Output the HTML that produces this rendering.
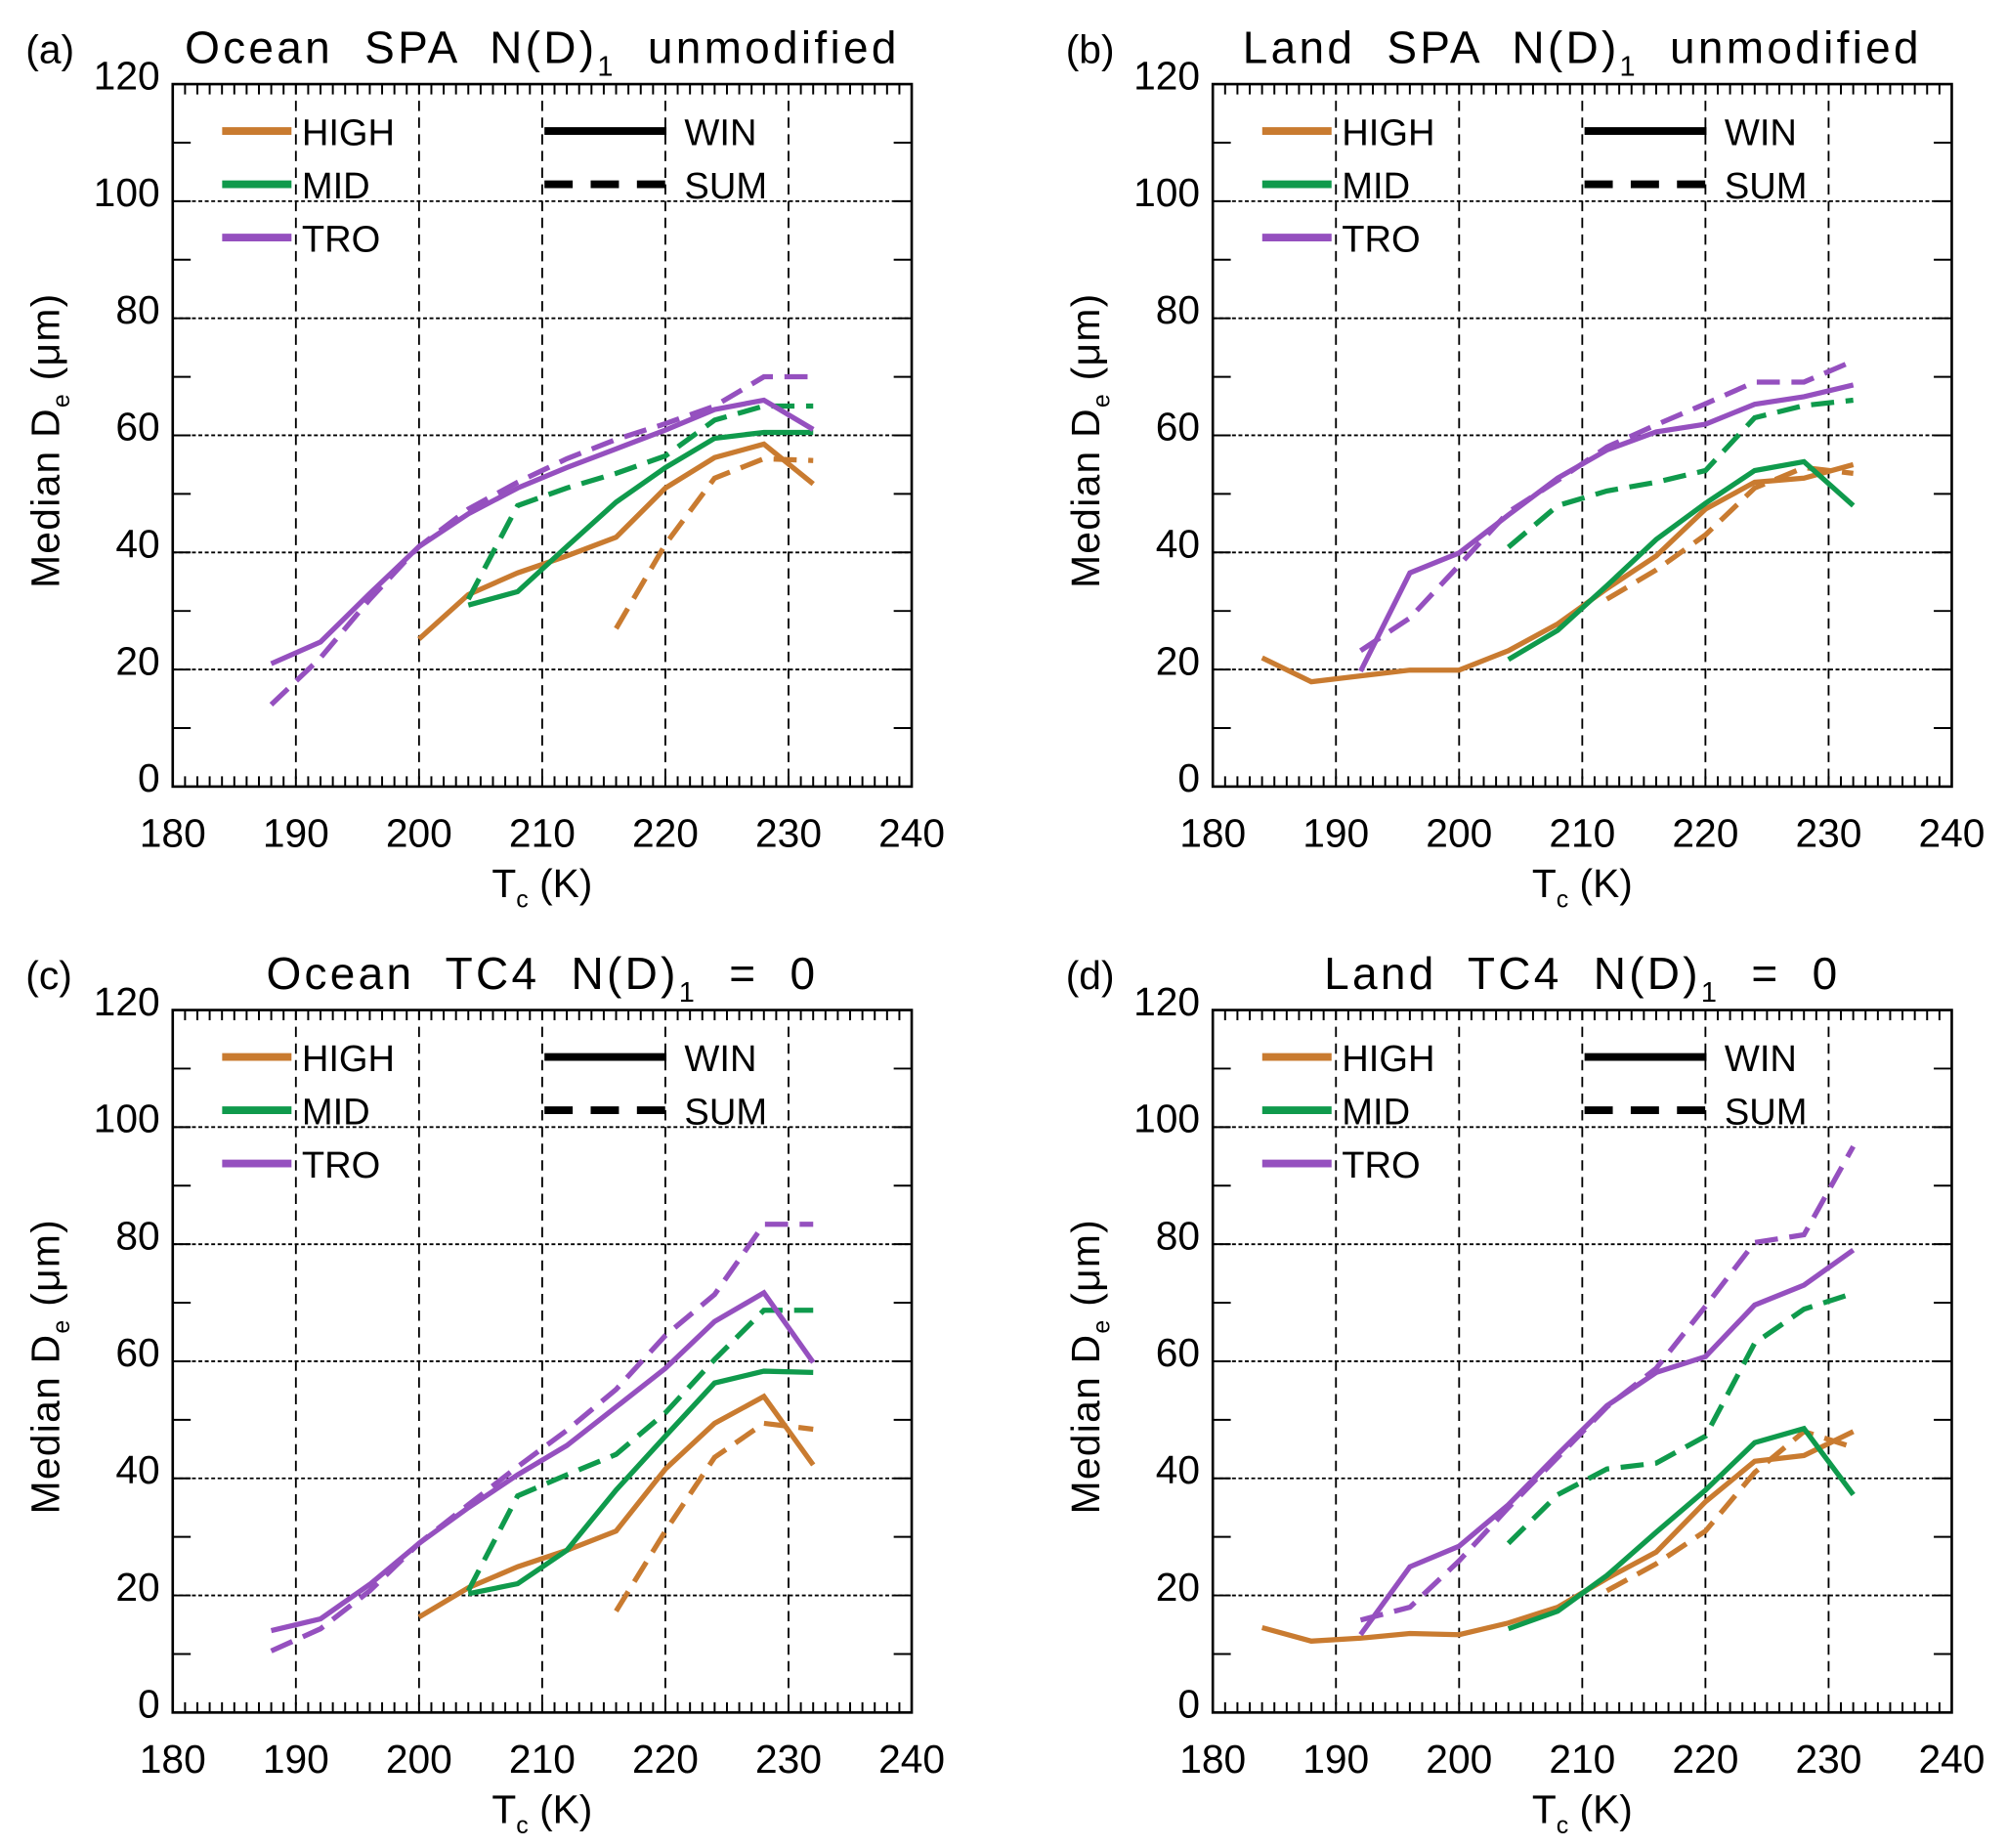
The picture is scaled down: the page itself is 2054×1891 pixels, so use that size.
<!DOCTYPE html>
<html><head><meta charset="utf-8"><style>
html,body{margin:0;padding:0;background:#fff;}
svg{display:block;}
text{font-family:"Liberation Sans","DejaVu Sans",sans-serif;fill:#000;}
</style></head><body>
<svg id="fig" width="2054" height="1891" viewBox="0 0 1563 1439" xmlns="http://www.w3.org/2000/svg"></svg>
<script>
const temps = [184,188,192,196,200,204,208,212,216,220,224,228,232];
const xTicks = [180,190,200,210,220,230,240];
const yTicks = [0,20,40,60,80,100,120];
const N = null;
// panel a
const aHighWin = [N,N,N,N,25.2,32.8,36.5,39.4,42.6,51,56.2,58.5,51.7];
const aHighSum = [N,N,N,N,N,N,N,N,27,41.4,52.7,56,55.7];
const aMidWin  = [N,N,N,N,N,31,33.3,41,48.6,54.5,59.5,60.5,60.5];
const aMidSum  = [N,N,N,N,N,32,48,51,53.5,56.5,62.6,65,65];
const aTroWin  = [N,21,24.7,33,41,46.6,51,54.5,57.7,60.9,64.4,66,61];
const aTroSum  = [N,14,22,32,41,47.4,52,56,59.3,62,65,70,70];
// panel b
const bHighWin = [22,17.9,18.9,19.9,19.9,23.2,27.8,33.8,39.4,47.4,52,52.7,55];
const bHighSum = [N,N,N,N,N,N,N,32,37,43,51,54.5,53.5];
const bMidWin  = [N,N,N,N,N,21.7,26.7,34.3,42.2,48.4,54,55.5,48];
const bMidSum  = [N,N,N,N,N,40.9,48,50.5,52,54,63,65.1,66];
const bTroWin  = [N,N,19.7,36.5,39.9,46.4,52.7,57.5,60.6,61.9,65.3,66.6,68.6];
const bTroSum  = [N,N,23.2,28.8,37.8,46.9,52.3,58,61.8,65.4,69.1,69.1,72.7];
// panel c
const cHighWin = [N,N,N,N,16.3,21.3,24.9,27.7,31,41.6,49.4,54,42.3];
const cHighSum = [N,N,N,N,N,N,N,N,17.3,31,43.6,49.4,48.4];
const cMidWin  = [N,N,N,N,N,20.3,22,27.7,38,47.2,56.3,58.3,58.1];
const cMidSum  = [N,N,N,N,N,20.8,37,40.6,44.1,51.2,60.3,68.7,68.7];
const cTroWin  = [N,14,16,21.9,28.9,35,40.6,45.6,52.2,58.8,66.8,71.7,59.8];
const cTroSum  = [N,10.5,14.3,20.8,28.9,35.5,42,48.2,55.2,64.4,71.4,83.4,83.4];
// panel d
const dHighWin = [14.5,12.2,12.7,13.5,13.3,15.3,18,22.9,27.4,36,42.9,43.9,48];
const dHighSum = [N,N,N,N,N,N,N,20.8,25.4,31,41,48,45.3];
const dMidWin  = [N,N,N,N,N,14.3,17.3,23.4,30.8,38,46.1,48.5,37.2];
const dMidSum  = [N,N,N,N,N,28.9,37.2,41.6,42.6,47.2,63.1,68.9,71.6];
const dTroWin  = [N,N,13.3,24.9,28.4,35.5,44.1,52.4,58.1,60.8,69.6,73,79];
const dTroSum  = [N,N,15.8,18,25.9,35,43.6,52.2,58.8,69.4,80.3,81.6,96.7];

const panelTitles = ["Ocean  SPA  N(D)","Land  SPA  N(D)","Ocean  TC4  N(D)","Land  TC4  N(D)"];
const panelSuffix = ["  unmodified","  unmodified","  =  0","  =  0"];
const panelLetters = ["(a)","(b)","(c)","(d)"];
const panelData = [
 [aHighWin,aHighSum,aMidWin,aMidSum,aTroWin,aTroSum],
 [bHighWin,bHighSum,bMidWin,bMidSum,bTroWin,bTroSum],
 [cHighWin,cHighSum,cMidWin,cMidSum,cTroWin,cTroSum],
 [dHighWin,dHighSum,dMidWin,dMidSum,dTroWin,dTroSum]];
const seriesNames = ["high-win","high-sum","mid-win","mid-sum","tro-win","tro-sum"];
const COL = {high:"#c97b30", mid:"#0f9a4c", tro:"#9550bf"};

const NS = "http://www.w3.org/2000/svg";
const svg = document.getElementById('fig');
function mk(tag, attrs, parent){
  const e = document.createElementNS(NS, tag);
  for (const k in attrs) e.setAttribute(k, attrs[k]);
  parent.appendChild(e); return e;
}
const X0=134.5, X1=710, Y0=65.5, Y1=612.5;
const offs = [[0,0],[810,0],[0,721],[810,721]];
function xs(t){ return X0 + (t-180)/60*(X1-X0); }
function ys(v){ return Y1 - v/120*(Y1-Y0); }

offs.forEach((o,pi)=>{
  const g = mk('g',{transform:`translate(${o[0]},${o[1]})`},svg);
  
  
  const lt = mk('text',{x:20,y:49,'font-size':31},g); lt.textContent = panelLetters[pi];
  
  
  const tt = mk('text',{x:(X0+X1)/2,y:49,'font-size':35,'text-anchor':'middle','letter-spacing':'2.5','xml:space':'preserve'},g);
  
  
  tt.style.whiteSpace='pre';
  const t1 = mk('tspan',{},tt); t1.textContent = panelTitles[pi];
  const t2 = mk('tspan',{dy:10,'font-size':22},tt); t2.textContent = "1";
  const t3 = mk('tspan',{dy:-10},tt); t3.textContent = panelSuffix[pi];
  xTicks.slice(1,-1).forEach(t=>{
    const l = mk('line',{x1:xs(t),x2:xs(t),y1:Y0,y2:Y1,stroke:'#000','stroke-width':1.4,'stroke-dasharray':'8,5'},g);
    
    
  });
  yTicks.slice(1,-1).forEach(v=>{
    const l = mk('line',{x1:X0,x2:X1,y1:ys(v),y2:ys(v),stroke:'#000','stroke-width':1.4,'stroke-dasharray':'3,2'},g);
    
    
  });
  let tk = '';
  for (let t=181;t<240;t++){ tk += `M${xs(t)},${Y1}v-8M${xs(t)},${Y0}v8`; }
  for (let v=10;v<120;v+=10){ tk += `M${X0},${ys(v)}h14M${X1},${ys(v)}h-14`; }
  const tp = mk('path',{d:tk,stroke:'#000','stroke-width':1.5,fill:'none'},g);
  
  
  const box = mk('rect',{x:X0,y:Y0,width:X1-X0,height:Y1-Y0,fill:'none',stroke:'#000','stroke-width':2},g);
  
  
  xTicks.forEach(t=>{
    const e = mk('text',{x:xs(t),y:Y1+47,'font-size':31,'text-anchor':'middle'},g);
    e.textContent = t;
    
    
  });
  yTicks.forEach(v=>{
    const e = mk('text',{x:X0-10,y:ys(v)+4,'font-size':31,'text-anchor':'end'},g);
    e.textContent = v;
    
    
  });
  const xt = mk('text',{x:(X0+X1)/2,y:Y1+86,'font-size':31,'text-anchor':'middle'},g);
  
  
  mk('tspan',{},xt).textContent='T';
  mk('tspan',{dy:8,'font-size':19},xt).textContent='c';
  mk('tspan',{dy:-8},xt).textContent=' (K)';
  const yt = mk('text',{x:0,y:0,'font-size':31,'text-anchor':'middle','letter-spacing':'1',transform:`translate(46,${(Y0+Y1)/2+4}) rotate(-90)`},g);
  
  
  mk('tspan',{},yt).textContent='Median D';
  mk('tspan',{dy:8,'font-size':19},yt).textContent='e';
  mk('tspan',{dy:-8},yt).textContent=' (\u03bcm)';
  panelData[pi].forEach((arr,si)=>{
    const key = seriesNames[si].split('-')[0];
    const dashed = si%2===1;
    let d='', pen=false;
    arr.forEach((v,i)=>{
      if (v===null){ pen=false; return; }
      d += (pen?'L':'M') + xs(temps[i]).toFixed(1) + ',' + ys(v).toFixed(1);
      pen=true;
    });
    const p = mk('path',{d:d,fill:'none',stroke:COL[key],'stroke-width':4,'stroke-linejoin':'miter'},g);
    if (dashed) p.setAttribute('stroke-dasharray','18,9');
    
    
  });
  const legs = [["HIGH",COL.high],["MID",COL.mid],["TRO",COL.tro]];
  legs.forEach((L,i)=>{
    const yy = 102 + i*41.5;
    const l = mk('line',{x1:173,x2:227,y1:yy,y2:yy,stroke:L[1],'stroke-width':6},g);
    
    
    const t = mk('text',{x:235,y:yy+11,'font-size':29},g); t.textContent=L[0];
    
    
  });
  [["WIN",''],["SUM",'22,14']].forEach((L,i)=>{
    const yy = 102 + i*41.5;
    const l = mk('line',{x1:424,x2:519,y1:yy,y2:yy,stroke:'#000','stroke-width':6},g);
    if (L[1]) l.setAttribute('stroke-dasharray',L[1]);
    
    
    const t = mk('text',{x:533,y:yy+11,'font-size':29},g); t.textContent=L[0];
    
    
  });
});
</script>
</body></html>
